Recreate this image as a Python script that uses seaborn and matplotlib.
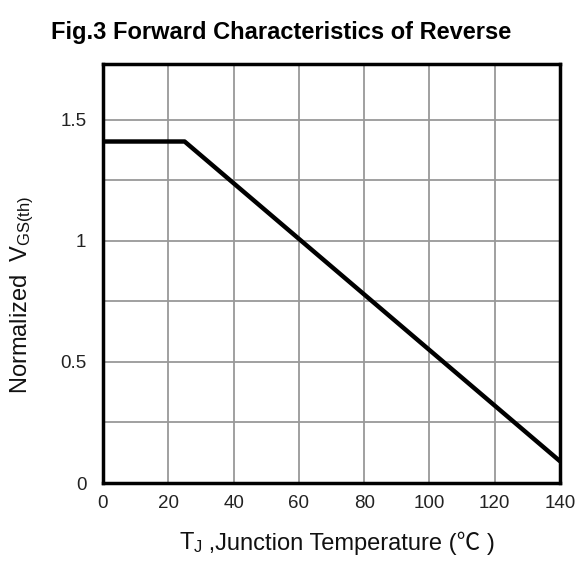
import matplotlib
matplotlib.use("Agg")
import matplotlib.pyplot as plt
import seaborn as sns
import pandas as pd
from matplotlib.offsetbox import TextArea, HPacker, AnchoredOffsetbox

# Data
temperature = [0, 25, 140]
normalized_vgs = [1.41, 1.41, 0.09]
x_ticks = [0, 20, 40, 60, 80, 100, 120, 140]
y_ticks = [0, 0.5, 1, 1.5]
y_tick_labels = ["0", "0.5", "1", "1.5"]
y_grid = [0, 0.25, 0.5, 0.75, 1.0, 1.25, 1.5]

sns.set_theme(style="white")
plt.rcParams['font.family'] = ['Liberation Sans', 'Noto Sans CJK SC', 'DejaVu Sans']
plt.rcParams['mathtext.fontset'] = 'custom'
plt.rcParams['mathtext.rm'] = 'Liberation Sans'
plt.rcParams['mathtext.it'] = 'Liberation Sans'

df = pd.DataFrame({"T": temperature, "V": normalized_vgs})

fig = plt.figure(figsize=(5.79, 5.65), dpi=100)
ax = fig.add_axes([103/579, 1-483/565, (560-103)/579, (483-64)/565])

for gx in x_ticks:
    ax.axvline(gx, color="#999999", lw=1.3, zorder=1)
for gy in y_grid:
    ax.axhline(gy, color="#999999", lw=1.3, zorder=1)

sns.lineplot(data=df, x="T", y="V", ax=ax, color="black", lw=3.2, zorder=3)

ax.set_xlim(0, 140)
ax.set_ylim(0, 1.73)
ax.set_xticks(x_ticks)
ax.set_xticklabels([str(t) for t in x_ticks])
ax.set_yticks(y_ticks)
ax.set_yticklabels(y_tick_labels)
ax.tick_params(axis="both", length=0, labelsize=13.5, colors="#222222")
ax.tick_params(axis="x", pad=9)
ax.tick_params(axis="y", pad=12)
for s in ax.spines.values():
    s.set_visible(True)
    s.set_color("black")
    s.set_linewidth(2.5)
    s.set_zorder(4)

ax.set_xlabel("")
ax.set_ylabel("Normalized  $\\mathregular{V_{GS(th)}}$", fontsize=17, color="#111111")
ax.yaxis.set_label_coords((36 - 103) / 457, (483 - 295) / 419)

# x label: subscript part via mathtext, remainder as plain text (for the ℃ glyph)
ta1 = TextArea("$\\mathregular{T_J}$", textprops=dict(fontsize=17, color="#111111"))
ta2 = TextArea(" ,Junction Temperature (℃ )", textprops=dict(fontsize=17, color="#111111",
               family=['Liberation Sans', 'Noto Sans CJK SC']))
pack = HPacker(children=[ta1, ta2], align="baseline", pad=0, sep=0)
box = AnchoredOffsetbox(loc="center", child=pack, pad=0, frameon=False,
                        bbox_to_anchor=(337/579, 1-543/565), bbox_transform=fig.transFigure,
                        borderpad=0)
fig.add_artist(box)

fig.text(281/579, 1-32/565, "Fig.3 Forward Characteristics of Reverse", ha="center", va="center",
         fontsize=17, fontweight="bold", color="black")

fig.savefig("out.png", dpi=100, facecolor="white")
